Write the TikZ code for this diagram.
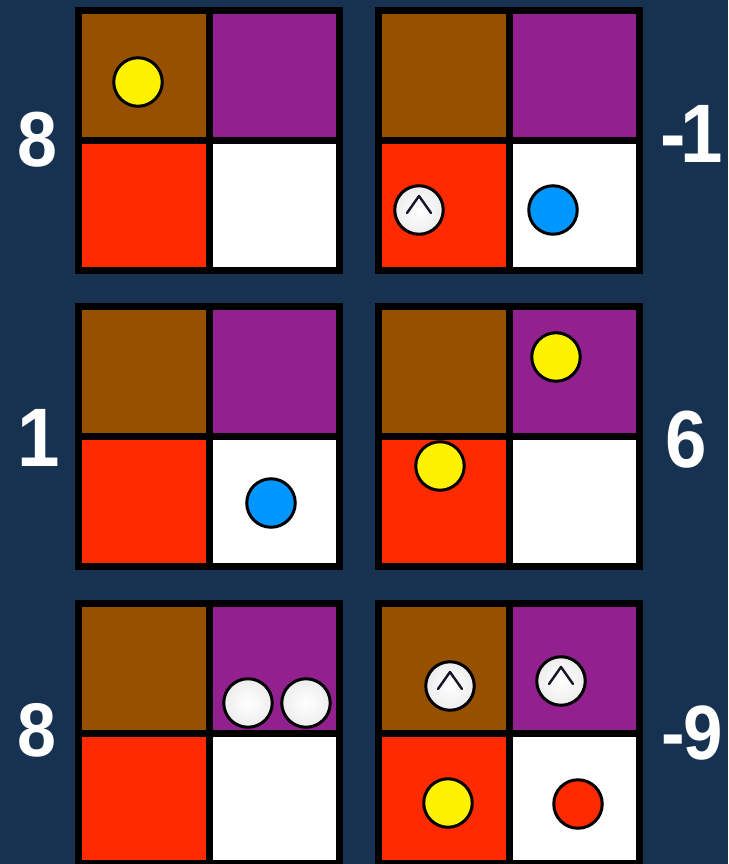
\documentclass[tikz,border=0pt]{standalone}
\usepackage{graphicx}
\usepackage{fontspec}
\setmainfont{Liberation Sans}
\definecolor{bgnavy}{HTML}{163250}
\definecolor{cbrown}{HTML}{965000}
\definecolor{cpurple}{HTML}{92208F}
\definecolor{cred}{HTML}{FF2A00}
\definecolor{cyellow}{HTML}{FFF200}
\definecolor{cblue}{HTML}{0096FF}
\definecolor{caretink}{HTML}{15152A}
\newcommand{\numtxt}[2]{\scalebox{0.92}[1]{\fontsize{#1}{#1}\selectfont\bfseries #2}}
\begin{document}
\begin{tikzpicture}[x=1pt,y=-1pt,
  token/.style={circle, draw=black, line width=3pt, minimum size=48.5pt, inner sep=0pt},
  pearl/.style={token, inner color=white, outer color=gray!14},
  gridline/.style={draw=black, line width=7pt},
  caretline/.style={draw=caretink, line width=2.4pt, line cap=round, line join=round},
  lbl/.style={text=white, inner sep=0pt}]
\fill[bgnavy] (0,0) rectangle (728,864);
\useasboundingbox (0,0) rectangle (728,864);
% grids
\foreach \gx/\gy in {75/7,375/7,75/303,375/303,75/600,375/600}{
  \fill[cbrown] (\gx,\gy) rectangle (\gx+134,\gy+133.5);
  \fill[cpurple] (\gx+134,\gy) rectangle (\gx+268,\gy+133.5);
  \fill[cred] (\gx,\gy+133.5) rectangle (\gx+134,\gy+267);
  \fill[white] (\gx+134,\gy+133.5) rectangle (\gx+268,\gy+267);
  \draw[gridline] (\gx+3.5,\gy+3.5) rectangle (\gx+264.5,\gy+263.5);
  \draw[gridline] (\gx+134,\gy) -- (\gx+134,\gy+267);
  \draw[gridline] (\gx,\gy+133.5) -- (\gx+268,\gy+133.5);
}
% tokens
\node[token, fill=cyellow] (a1) at (138,82) {};
\node[pearl] (b1) at (419,210) {};
\node[token, fill=cblue] (b2) at (553,210) {};
\node[token, fill=cblue] (c1) at (271,503) {};
\node[token, fill=cyellow] (d1) at (556,357) {};
\node[token, fill=cyellow] (d2) at (440,466) {};
\node[pearl] (e1) at (248,703) {};
\node[pearl] (e2) at (306,703) {};
\node[pearl] (f1) at (450,686) {};
\node[pearl] (f2) at (561,681) {};
\node[token, fill=cyellow] (f3) at (448,803) {};
\node[token, fill=cred] (f4) at (578,804) {};
% carets
\foreach \n in {b1,f1,f2}{
  \draw[caretline] (\n.center) ++(-12,3) -- ++(12,-17) -- ++(12,17);
}
% labels
\node[lbl, anchor=base] (l1) at (37,166) {\numtxt{78}{8}};
\node[lbl, anchor=base west] (r1) at (660,162) {\numtxt{83}{-\kern-5.5pt 1}};
\node[lbl, anchor=base] (l2) at (38.5,466) {\numtxt{83}{1}};
\node[lbl, anchor=base] (r2) at (686,467) {\numtxt{81}{6}};
\node[lbl, anchor=base] (l3) at (37,756) {\numtxt{76}{8}};
\node[lbl, anchor=base west] (r3) at (661,759) {\numtxt{77}{-\kern-2pt 9}};
\end{tikzpicture}
\end{document}
